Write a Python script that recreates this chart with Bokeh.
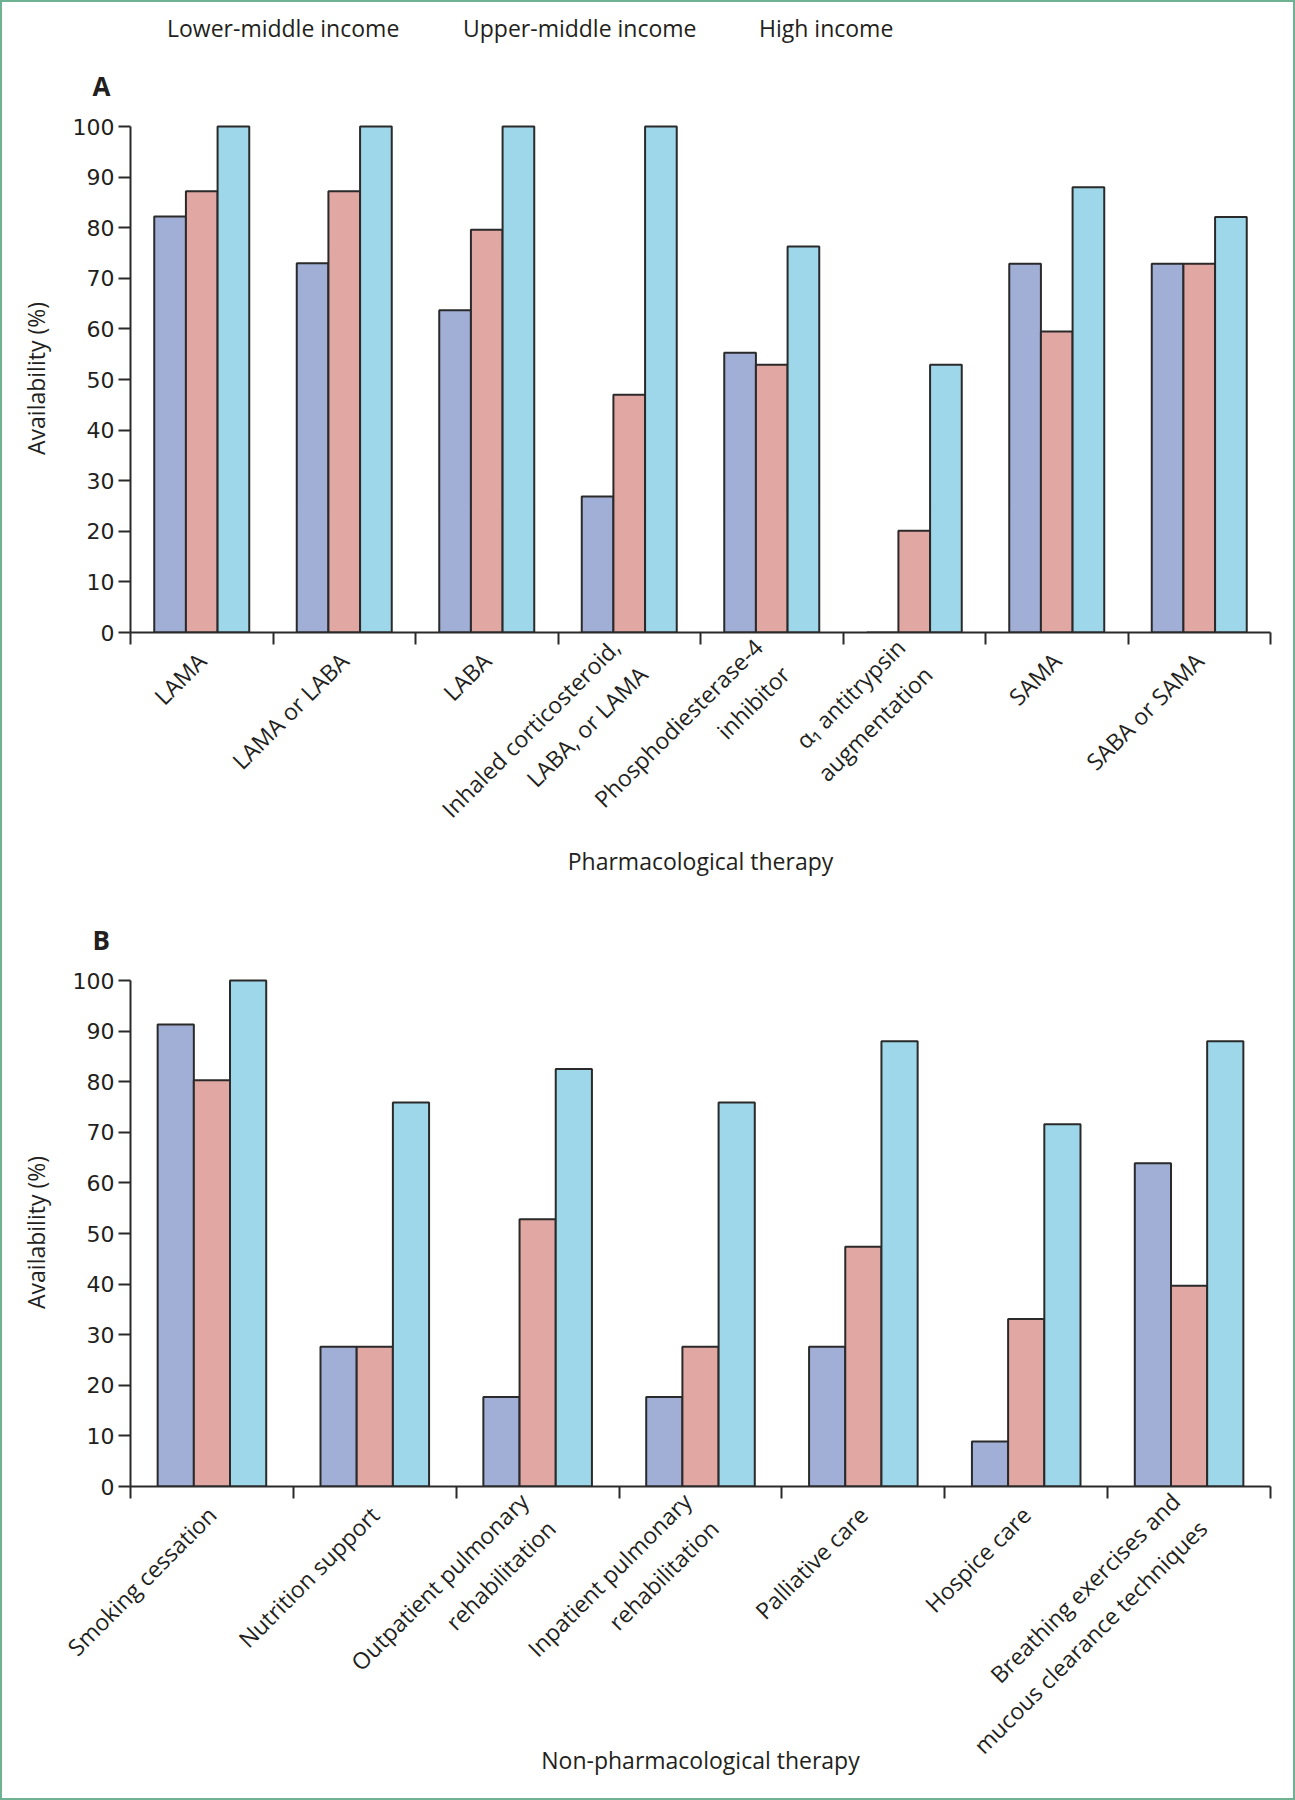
import numpy as np
from bokeh.plotting import figure
from bokeh.models import (ColumnDataSource, Range1d, FixedTicker,
                          Legend, LegendItem, Title, CDSView, IndexFilter)
from bokeh.transform import dodge
from bokeh.layouts import column
from bokeh.embed import file_html
from bokeh.resources import INLINE

# ---------------- data ----------------
series = ["Lower-middle income", "Upper-middle income", "High income"]
series_colors = ["#A1AFD7", "#E1A7A2", "#9DD7E9"]

pharm_categories = ["LAMA", "LAMA or LABA", "LABA",
                    "Inhaled corticosteroid,\nLABA, or LAMA",
                    "Phosphodiesterase-4\ninhibitor",
                    "\u03b1\u2081 antitrypsin\naugmentation",
                    "SAMA", "SABA or SAMA"]
pharm_lower = [82.2, 73.0, 63.7, 26.9, 55.3, 0.0, 72.9, 72.9]
pharm_upper = [87.2, 87.2, 79.6, 47.0, 52.9, 20.1, 59.5, 72.9]
pharm_high = [100.0, 100.0, 100.0, 100.0, 76.3, 52.9, 88.0, 82.1]

nonpharm_categories = ["Smoking cessation", "Nutrition support",
                       "Outpatient pulmonary\nrehabilitation",
                       "Inpatient pulmonary\nrehabilitation",
                       "Palliative care", "Hospice care",
                       "Breathing exercises and\nmucous clearance techniques"]
nonpharm_lower = [91.3, 27.6, 17.7, 17.7, 27.6, 8.9, 63.9]
nonpharm_upper = [80.3, 27.6, 52.8, 27.6, 47.4, 33.1, 39.7]
nonpharm_high = [100.0, 75.9, 82.5, 75.9, 88.0, 71.6, 88.0]

y_ticks = [0, 10, 20, 30, 40, 50, 60, 70, 80, 90, 100]
y_title = "Availability (%)"
pharm_title = "Pharmacological therapy"
nonpharm_title = "Non-pharmacological therapy"

# ---------------- style ----------------
INK = "#2a2a2a"
TXT = "#231f20"
FONT = "Open Sans"
NUMFONT = "DejaVu Sans"
BAR_W = 2.0 / 9.0


def make_panel(cats, lower, upper, high, letter, xtitle, fig_h,
               border_top, border_bottom, xlabel_standoff):
    n = len(cats)
    centers = [i + 0.5 for i in range(n)]          # category slot centres
    bounds = [float(i) for i in range(n + 1)]       # category slot boundaries
    src = ColumnDataSource(dict(pos=centers, cat=cats, low=lower, up=upper, high=high))
    p = figure(width=1295, height=fig_h, title=None,
               x_range=Range1d(0, n), y_range=Range1d(0, 100.4),
               output_backend="svg", toolbar_location=None,
               min_border_left=130, min_border_right=25,
               min_border_top=border_top, min_border_bottom=border_bottom)
    p.outline_line_color = None
    p.grid.visible = False
    p.background_fill_color = None
    p.border_fill_color = None

    # panel letter, pulled left of the frame
    p.add_layout(Title(text=letter, align="left", offset=-38, standoff=42,
                       text_font=FONT, text_font_style="bold", text_font_size="26px",
                       text_color=TXT), "above")

    for key, off, col in zip(["low", "up", "high"], [-BAR_W, 0.0, BAR_W], series_colors):
        p.vbar(x=dodge("pos", off), top=key, width=BAR_W, bottom=0,
               source=src, fill_color=col, line_color=INK, line_width=2)

    # y axis
    ya = p.yaxis[0]
    ya.ticker = FixedTicker(ticks=y_ticks)
    ya.bounds = (0, 100)
    ya.axis_line_color = INK
    ya.axis_line_width = 2
    ya.major_tick_line_color = INK
    ya.major_tick_line_width = 2
    ya.major_tick_out = 12
    ya.major_tick_in = 0
    ya.minor_tick_line_color = None
    ya.major_label_standoff = 4
    ya.major_label_text_font = NUMFONT
    ya.major_label_text_font_size = "22px"
    ya.major_label_text_color = TXT
    ya.axis_label = y_title
    ya.axis_label_text_font = FONT
    ya.axis_label_text_font_style = "normal"
    ya.axis_label_text_font_size = "23px"
    ya.axis_label_text_color = TXT
    ya.axis_label_standoff = 18

    # x axis: ticks at category boundaries, labels at category centres
    xa = p.xaxis[0]
    xa.ticker = FixedTicker(ticks=centers, minor_ticks=bounds)
    xa.major_label_overrides = {c: lab for c, lab in zip(centers, cats)}
    xa.axis_line_color = INK
    xa.axis_line_width = 2
    xa.major_tick_out = 0
    xa.major_tick_in = 0
    xa.major_tick_line_color = None
    xa.minor_tick_out = 12
    xa.minor_tick_in = 0
    xa.minor_tick_line_color = INK
    xa.minor_tick_line_width = 2
    xa.major_label_orientation = np.pi / 4
    xa.major_label_standoff = 12
    xa.major_label_text_font = FONT
    xa.major_label_text_font_size = "23px"
    xa.major_label_text_color = TXT
    xa.axis_label = xtitle
    xa.axis_label_text_font = FONT
    xa.axis_label_text_font_style = "normal"
    xa.axis_label_text_font_size = "23px"
    xa.axis_label_text_color = TXT
    xa.axis_label_standoff = xlabel_standoff
    return p, src


pA, srcA = make_panel(pharm_categories, pharm_lower, pharm_upper, pharm_high,
                      "A", pharm_title, 854, 80, 266, -34)
pB, srcB = make_panel(nonpharm_categories, nonpharm_lower, nonpharm_upper, nonpharm_high,
                      "B", nonpharm_title, 902, 80, 314, -44)

# ---- legend strip (shared key for both panels) ----
pL = figure(width=1295, height=44, title=None, output_backend="svg", toolbar_location=None,
            x_range=Range1d(0, len(pharm_categories)), y_range=Range1d(0, 1),
            x_axis_location=None, y_axis_location=None,
            min_border_left=130, min_border_right=25, min_border_top=0, min_border_bottom=0)
pL.outline_line_color = None
pL.grid.visible = False
pL.background_fill_color = None
pL.border_fill_color = None
pL.extra_y_ranges = {"hidden": Range1d(1000, 1001)}   # these bars only feed the legend keys
no_rows = CDSView(filter=IndexFilter(indices=[]))
key_renderers = []
for key, off, col in zip(["low", "up", "high"], [-BAR_W, 0.0, BAR_W], series_colors):
    key_renderers.append(pL.vbar(x=dodge("pos", off), top=key, bottom=0, width=BAR_W,
                                 source=srcA, view=no_rows, y_range_name="hidden",
                                 fill_color=col, line_color=INK, line_width=2))
legend = Legend(items=[LegendItem(label=s, renderers=[r]) for s, r in zip(series, key_renderers)],
                orientation="horizontal", location=(0, 0),
                glyph_width=28, glyph_height=20, label_standoff=9, label_width=259,
                spacing=0, padding=0, margin=0,
                border_line_alpha=0, background_fill_alpha=0,
                label_text_font=FONT, label_text_font_size="23px", label_text_color=TXT)
pL.add_layout(legend)

layout = column(pL, pA, pB, spacing=0,
                styles={"background-color": "white",
                        "box-shadow": "inset 0 0 0 2px #6DB393"})

open("out.html", "w").write(file_html(layout, INLINE))
